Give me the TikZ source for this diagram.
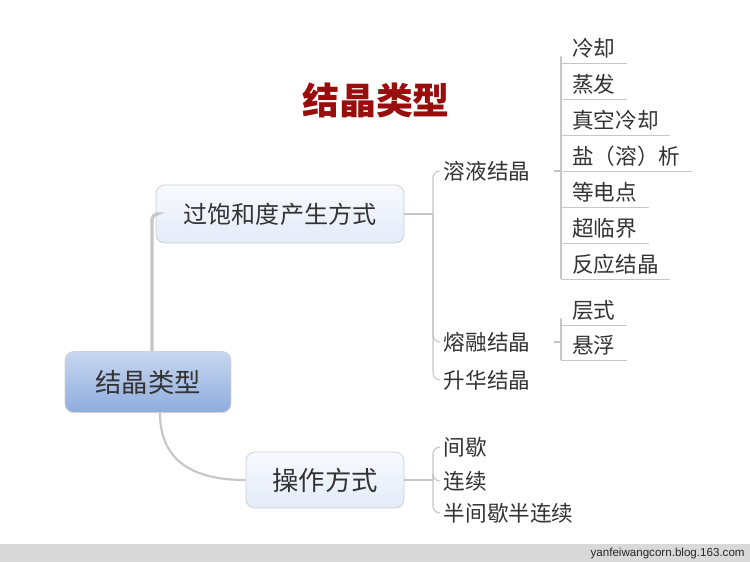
\documentclass[tikz,border=0pt]{standalone}
\usepackage{fontspec}
\usepackage{tikz}
\usetikzlibrary{positioning,calc}
\setmainfont{Liberation Sans}
\newfontfamily\cjk{Noto Sans CJK SC}
\definecolor{lnc}{HTML}{C6C6C6}
\definecolor{txc}{HTML}{333333}
\definecolor{ttlc}{HTML}{990D0D}
\definecolor{boxtop}{HTML}{F8FAFE}
\definecolor{boxbot}{HTML}{E3EBF8}
\definecolor{roottop}{HTML}{C8D7EF}
\definecolor{rootbot}{HTML}{8EACDD}
\newcommand{\fsz}[1]{\fontsize{#1}{#1}\selectfont}

\begin{document}
\begin{tikzpicture}[x=0.02cm, y=-0.02cm,
  topic/.style={draw=black!20, rounded corners=5pt, top color=boxtop, bottom color=boxbot,
                text=txc, inner sep=0pt, font=\cjk\fsz{13.7}},
  mid/.style={anchor=west, inner xsep=2pt, inner ysep=0pt, text=txc, font=\cjk\fsz{12.3},
              text height=1.02em, text depth=0em},
  leaf/.style={anchor=west, inner xsep=0.22cm, inner ysep=0pt, minimum height=17pt, text=txc,
               font=\cjk\fsz{12.3}, text height=1.02em, text depth=0em},
  ln/.style={draw=lnc, line width=0.6pt},
  rnd/.style={ln, rounded corners=4pt}
]
  \useasboundingbox[fill=white] (0,0) rectangle (750,562);

  % Title
  \node[font=\cjk\bfseries\fsz{21}, text=ttlc] (ttl) at (376,100) {结晶类型};

  % Main topics
  \node[topic, draw=black!18, top color=roottop, bottom color=rootbot, font=\cjk\fsz{15},
        minimum width=3.32cm, minimum height=1.22cm] (root) at (148,382) {结晶类型};
  \node[topic, minimum width=4.96cm, minimum height=1.16cm] (sat) at (280,214) {过饱和度产生方式};
  \node[topic, font=\cjk\fsz{15}, minimum width=3.16cm, minimum height=1.12cm] (op) at (325,480) {操作方式};

  \draw[draw=lnc, line width=1.8pt, rounded corners=3pt] ([xshift=0.08cm]root.north) |- (sat.west);
  \draw[draw=lnc, line width=1.2pt] ([xshift=0.24cm]root.south) .. controls +(0,50) and +(-50,0) .. (op.west);

  % Supersaturation branch
  \coordinate (sj) at (433,214);
  \node[mid] (sol) at (440,171) {溶液结晶};
  \node[mid] (mel) at (440,342) {熔融结晶};
  \node[mid] (sub) at (440,380) {升华结晶};
  \draw[ln] (sat.east) -- (sj);
  \foreach \nm in {sol, mel, sub}{
    \draw[rnd] (sj) |- (\nm.west);
  }

  % Solution crystallization
  \coordinate (lj) at (561,171);
  \draw[ln, shorten <=0.4cm] (sol.east) -- (lj);
  \foreach \nm/\txt/\y in {lq/冷却/48, zf/蒸发/84, zk/真空冷却/120, yx/盐（溶）析/156,
                           dd/等电点/192, cl/超临界/228, fy/反应结晶/264}{
    \node[leaf] (\nm) at (561,\y) {\txt};
    \draw[rnd] (lj) |- (\nm.south west);
    \draw[ln] (\nm.south west) -- (\nm.south east);
  }

  % Melt crystallization
  \coordinate (mj) at (561,342);
  \draw[ln, shorten <=0.4cm] (mel.east) -- (mj);
  \foreach \nm/\txt/\y in {cs/层式/310, xf/悬浮/345}{
    \node[leaf] (\nm) at (561,\y) {\txt};
    \draw[rnd] (mj) |- (\nm.south west);
    \draw[ln] (\nm.south west) -- (\nm.south east);
  }

  % Operation modes
  \coordinate (oj) at (433,480);
  \node[mid] (jx) at (440,447) {间歇};
  \node[mid] (lx) at (440,481) {连续};
  \node[mid] (bj) at (440,513) {半间歇半连续};
  \draw[ln] (op.east) -- (oj);
  \foreach \nm in {jx, lx, bj}{
    \draw[rnd] (oj) |- (\nm.west);
  }

  % Footer bar
  \fill[black!15] (0,544) rectangle (750,562);
  \node[font=\fsz{6.6}, text=black!85, anchor=east, inner sep=0pt] (url) at (745,553) {yanfeiwangcorn.blog.163.com};
\end{tikzpicture}
\end{document}
